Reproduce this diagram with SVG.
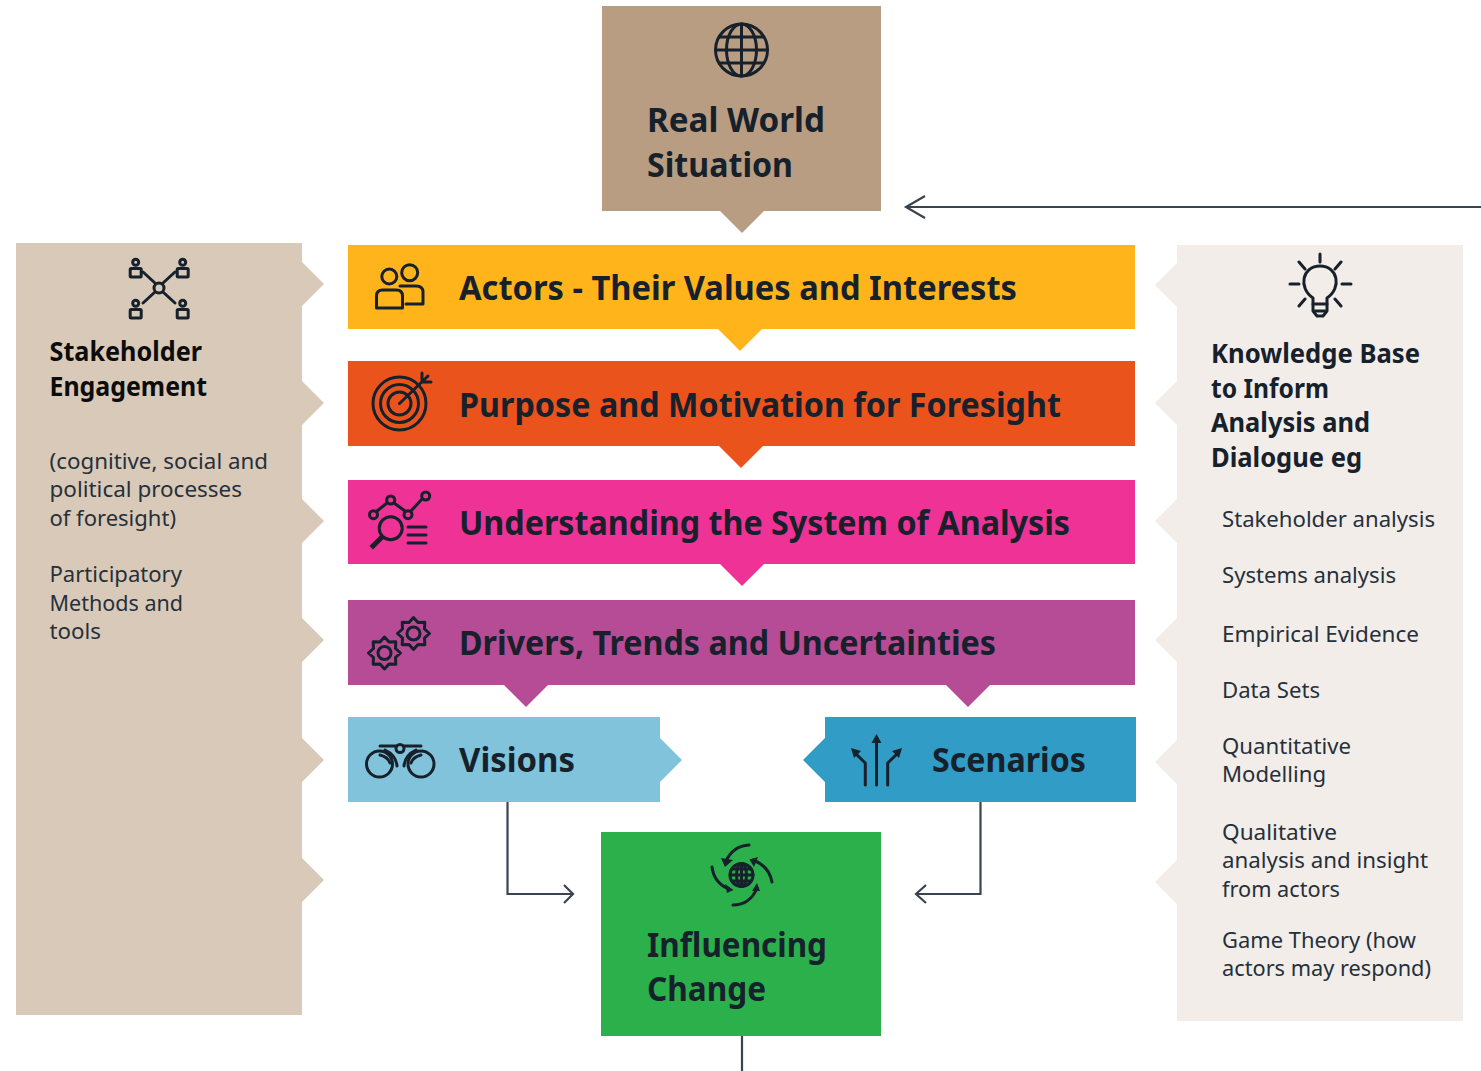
<svg xmlns="http://www.w3.org/2000/svg" width="1481" height="1071" viewBox="0 0 1481 1071">
<style>
text{font-family:"Noto Sans","Open Sans",sans-serif;fill:#16212b}
.h{font-size:34px;font-weight:700}
.s{font-size:27.5px;font-weight:700}
.k{fill:#0c0c0c}
.b{font-size:22px;fill:#26303a}
.i{fill:none;stroke:#16212b;stroke-width:3;stroke-linecap:round;stroke-linejoin:round}
.f{fill:#16212b;stroke:none}
.c{fill:none;stroke:#3a4450;stroke-width:2.2}
</style>
<defs>
<path id="tl" d="M302 -22L324 0L302 22Z"/>
<path id="tr" d="M1177 -22L1155 0L1177 22Z"/>
<g id="person"><circle cx="0" cy="-5.700" r="3"/><rect x="-5.500" y="0.500" width="11" height="8.500" rx="1"/></g>
<g id="gear"><path d="M16 0L11 4.500L11.300 11.300L4.500 11L0 16L-4.500 11L-11.300 11.300L-11 4.500L-16 0L-11 -4.500L-11.300 -11.300L-4.500 -11L0 -16L4.500 -11L11.300 -11.300L11 -4.500Z"/><circle r="6.500"/></g>
</defs>
<g id="stakeholder-engagement">
<g fill="#d9c9b9"><rect x="16" y="243" width="286" height="772"/>
<use href="#tl" y="284"/><use href="#tl" y="403"/><use href="#tl" y="521"/><use href="#tl" y="640"/><use href="#tl" y="760"/><use href="#tl" y="880"/></g>
<g class="i"><path d="M143 272L155 283M175 272L163 283M143 303L155 292M175 303L163 292"/><circle cx="159" cy="288" r="5"/>
<use href="#person" x="135.700" y="268"/><use href="#person" x="182.700" y="268"/><use href="#person" x="135.700" y="309"/><use href="#person" x="182.700" y="309"/></g>
<text class="s k" x="49.500" y="361" textLength="152.500" lengthAdjust="spacingAndGlyphs">Stakeholder</text><text class="s k" x="49.500" y="396" textLength="157.500" lengthAdjust="spacingAndGlyphs">Engagement</text>
<text class="b" x="49.500" y="468.500" textLength="218.500" lengthAdjust="spacingAndGlyphs">(cognitive, social and</text><text class="b" x="49.500" y="497" textLength="192.500" lengthAdjust="spacingAndGlyphs">political processes</text><text class="b" x="49.500" y="525.500" textLength="126.500" lengthAdjust="spacingAndGlyphs">of foresight)</text>
<text class="b" x="49.500" y="582" textLength="132.500" lengthAdjust="spacingAndGlyphs">Participatory</text><text class="b" x="49.500" y="610.500" textLength="133.500" lengthAdjust="spacingAndGlyphs">Methods and</text><text class="b" x="49.500" y="639" textLength="51.500" lengthAdjust="spacingAndGlyphs">tools</text>
</g>
<g id="knowledge-base">
<g fill="#f2ede9"><rect x="1177" y="245" width="286" height="776"/>
<use href="#tr" y="285"/><use href="#tr" y="403"/><use href="#tr" y="521"/><use href="#tr" y="640"/><use href="#tr" y="762"/><use href="#tr" y="882"/></g>
<g class="i"><path d="M1320 254V262M1299 262L1305 269M1341 262L1335 269M1290 284H1299M1342 284H1351M1299 306L1305 299M1341 306L1335 299"/><path d="M1313 298V311L1317 316H1323L1327 311V298C1342 288 1338 266 1320 266C1302 266 1298 288 1313 298Z"/><path d="M1313 304H1327M1315 311H1325"/></g>
<text class="s" x="1211" y="363" textLength="209" lengthAdjust="spacingAndGlyphs">Knowledge Base</text><text class="s" x="1211" y="398" textLength="118" lengthAdjust="spacingAndGlyphs">to Inform</text><text class="s" x="1211" y="432" textLength="159" lengthAdjust="spacingAndGlyphs">Analysis and</text><text class="s" x="1211" y="467" textLength="151" lengthAdjust="spacingAndGlyphs">Dialogue eg</text>
<text class="b" x="1222" y="526.500" textLength="213" lengthAdjust="spacingAndGlyphs">Stakeholder analysis</text><text class="b" x="1222" y="582.500" textLength="174" lengthAdjust="spacingAndGlyphs">Systems analysis</text><text class="b" x="1222" y="641.500" textLength="197" lengthAdjust="spacingAndGlyphs">Empirical Evidence</text><text class="b" x="1222" y="697.500" textLength="98" lengthAdjust="spacingAndGlyphs">Data Sets</text><text class="b" x="1222" y="753.500" textLength="129" lengthAdjust="spacingAndGlyphs">Quantitative</text><text class="b" x="1222" y="782" textLength="104" lengthAdjust="spacingAndGlyphs">Modelling</text><text class="b" x="1222" y="839.500" textLength="115" lengthAdjust="spacingAndGlyphs">Qualitative</text><text class="b" x="1222" y="868" textLength="206" lengthAdjust="spacingAndGlyphs">analysis and insight</text><text class="b" x="1222" y="896.500" textLength="118" lengthAdjust="spacingAndGlyphs">from actors</text><text class="b" x="1222" y="947.500" textLength="194" lengthAdjust="spacingAndGlyphs">Game Theory (how</text><text class="b" x="1222" y="976" textLength="209" lengthAdjust="spacingAndGlyphs">actors may respond)</text>
</g>
<g id="real-world">
<path fill="#b99d82" d="M602 6H881V211H764L742 233L720 211H602Z"/>
<g class="i"><circle cx="741.500" cy="50" r="26"/><ellipse cx="741.500" cy="50" rx="15" ry="26"/><path d="M741.500 24V76M716 50H767M720 37H763M720 63H763"/></g>
<text class="h" x="647" y="132" textLength="178" lengthAdjust="spacingAndGlyphs">Real World</text><text class="h" x="647" y="177" textLength="146" lengthAdjust="spacingAndGlyphs">Situation</text>
</g>
<g id="actors">
<path fill="#ffb41c" d="M348 245H1135V329H762L740 351L718 329H348Z"/>
<g class="i"><circle cx="389.300" cy="276.500" r="7.500"/><circle cx="409.700" cy="272.700" r="8"/><path d="M376.500 308V296Q376.500 290 382.500 290H396.500Q402.500 290 402.500 296V308Z"/><path d="M400 286H416Q423 286 423 292V304H406"/></g>
<text class="h" x="459" y="300" textLength="558" lengthAdjust="spacingAndGlyphs">Actors - Their Values and Interests</text>
</g>
<g id="purpose">
<path fill="#eb531d" d="M348 361H1135V446H763L741 468L719 446H348Z"/>
<g class="i"><circle cx="399.500" cy="403.500" r="26.500"/><circle cx="399.500" cy="403.500" r="19"/><circle cx="399.500" cy="403.500" r="11.500"/><path d="M399.500 403.500L428 376M422 373V382H431"/></g>
<text class="h" x="459" y="417" textLength="602" lengthAdjust="spacingAndGlyphs">Purpose and Motivation for Foresight</text>
</g>
<g id="system">
<path fill="#ee3296" d="M348 480H1135V564H764L742 586L720 564H348Z"/>
<g class="i"><path d="M377 511L387 503M394 503L405 511M411 511L422 499"/><circle cx="373.500" cy="514.700" r="4"/><circle cx="390.700" cy="500" r="4"/><circle cx="408" cy="514.700" r="4"/><circle cx="425.700" cy="496" r="4"/><circle cx="390.700" cy="528.300" r="11.500"/><path d="M408 527H426M408 535H426M408 543H426"/></g>
<path d="M381 538L373 546" stroke="#16212b" stroke-width="5" stroke-linecap="square"/>
<text class="h" x="459" y="535" textLength="611" lengthAdjust="spacingAndGlyphs">Understanding the System of Analysis</text>
</g>
<g id="drivers">
<path fill="#b64b96" d="M348 600H1135V685H990L968 707L946 685H548L526 707L504 685H348Z"/>
<g class="i"><use href="#gear" x="413.500" y="633.500"/><use href="#gear" x="384.500" y="653"/></g>
<text class="h" x="459" y="655" textLength="537" lengthAdjust="spacingAndGlyphs">Drivers, Trends and Uncertainties</text>
</g>
<g id="visions">
<path fill="#82c3dc" d="M348 717H660V738L682 760L660 782V802H348Z"/>
<g class="i"><circle cx="379.500" cy="764" r="13"/><circle cx="421" cy="764" r="13"/><circle cx="400" cy="748.500" r="4"/><path d="M380 746H396M404 746H421M385 750Q396 755 397 766M416 750Q405 755 404 766M380 755Q388 757 390 763M421 755Q413 757 411 763"/></g>
<text class="h" x="459" y="772" textLength="116" lengthAdjust="spacingAndGlyphs">Visions</text>
</g>
<g id="scenarios">
<path fill="#319dc6" d="M825 717H1136V802H825V782L803 760L825 738Z"/>
<g class="i"><path d="M876.500 785V742M865.300 785V763L855 753M887.700 785V763L898 753"/><path class="f" d="M876.500 734L881.500 743H871.500Z"/><path class="f" d="M851 748L861 751L854 758Z"/><path class="f" d="M902 748L892 751L899 758Z"/></g>
<text class="h" x="932" y="772" textLength="154" lengthAdjust="spacingAndGlyphs">Scenarios</text>
</g>
<g id="influencing-change">
<rect x="601" y="832" width="280" height="204" fill="#2bb04c"/>
<g class="i"><circle cx="741.500" cy="875" r="11.500"/><ellipse cx="741.500" cy="875" rx="5" ry="11.500"/><path d="M741.500 864V886M730 875H753M732 869H751M732 881H751"/>
<path d="M749 845Q733 846 726 861"/><path d="M772 882Q769 866 753 860"/><path d="M733 905Q750 905 757 888"/><path d="M712 867Q714 883 729 889"/>
<path class="f" d="M725 867L721 858L733 860Z"/><path class="f" d="M749.500 859.500L758 857L754 867Z"/><path class="f" d="M757 883L752 891L760 891Z"/><path class="f" d="M733.500 890L725 884L727 893Z"/></g>
<text class="h" x="647" y="957" textLength="180" lengthAdjust="spacingAndGlyphs">Influencing</text><text class="h" x="647" y="1001" textLength="119" lengthAdjust="spacingAndGlyphs">Change</text>
</g>
<g id="connectors" class="c">
<path d="M1481 207H906M925 196L906 207L925 218"/>
<path d="M507.500 802V894H573M564 885L573 894L564 903"/>
<path d="M980.500 802V894H916M926 885L916 894L926 903"/>
<path d="M742 1036V1071"/>
</g>
</svg>
